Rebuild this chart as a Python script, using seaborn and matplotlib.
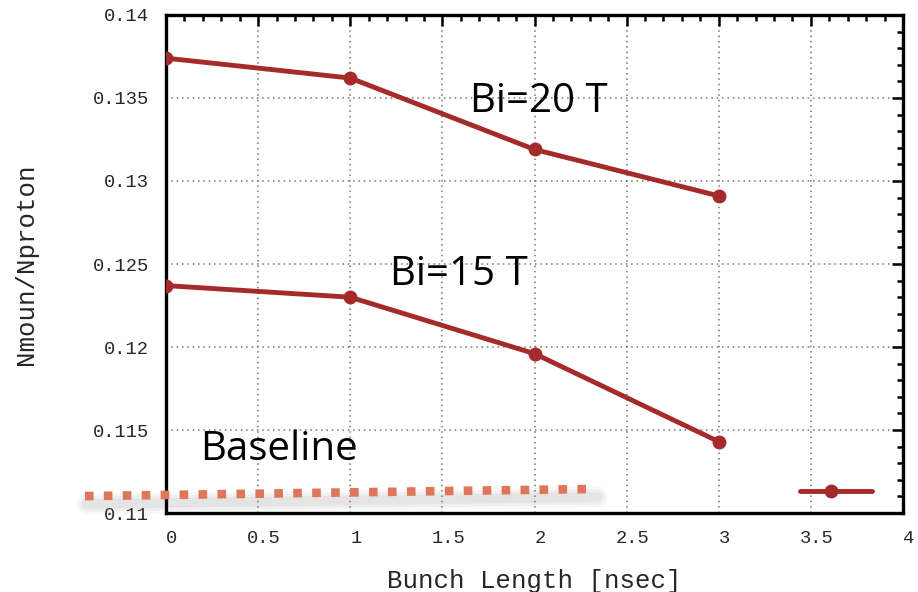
import numpy as np
import pandas as pd
import matplotlib
matplotlib.use("Agg")
import matplotlib.pyplot as plt
import matplotlib.transforms as mtransforms
from matplotlib.ticker import MultipleLocator
import seaborn as sns

# ---- data ----
bunch_length = [0, 1, 2, 3]
bi20 = [0.1374, 0.1362, 0.1319, 0.1291]
bi15 = [0.1237, 0.1230, 0.1196, 0.1143]

baseline_x = [-0.44, 2.33]
baseline_y = [0.11102, 0.11145]

key_x = [3.44, 3.83]
key_y = [0.11133, 0.11133]
key_marker_x = [3.61]
key_marker_y = [0.11133]

labels = ["Bi=20 T", "Bi=15 T", "Baseline"]
label_x = [1.65, 1.216, 0.185]
label_y = [0.13416, 0.12373, 0.11319]

xticks = [0, 0.5, 1, 1.5, 2, 2.5, 3, 3.5, 4]
xtick_labels = ["0", "0.5", "1", "1.5", "2", "2.5", "3", "3.5", "4"]
yticks = [0.11, 0.115, 0.12, 0.125, 0.13, 0.135, 0.14]
ytick_labels = ["0.11", "0.115", "0.12", "0.125", "0.13", "0.135", "0.14"]

df = pd.DataFrame({
    "x": bunch_length * 2,
    "y": bi20 + bi15,
    "series": ["Bi=20 T"] * 4 + ["Bi=15 T"] * 4,
})

sns.set_style("white")
plt.rcParams["font.family"] = ["Liberation Mono", "DejaVu Sans Mono"]

fig = plt.figure(figsize=(9.18, 5.92), dpi=100)
ax = fig.add_axes([0.1808, 0.1334, 0.8029, 0.8413])

line_color = "#A52A2A"
sns.lineplot(data=df, x="x", y="y", units="series", estimator=None,
             color=line_color, lw=3.5, marker="o", markersize=10,
             markeredgewidth=0, ax=ax, legend=False, zorder=3)

# baseline shadow
for lw, a in [(15, 0.05), (11, 0.07), (7, 0.09)]:
    off = mtransforms.offset_copy(ax.transData, fig=fig, x=2, y=-8, units="dots")
    ax.plot(baseline_x, baseline_y, color="0.5", lw=lw, alpha=a,
            solid_capstyle="round", transform=off, clip_on=False, zorder=2)

ax.plot(baseline_x, baseline_y, color="#DE765A", lw=6.2,
        linestyle=(0, (1.0, 1.2)), dash_capstyle="butt",
        clip_on=False, zorder=4)

# key
ax.plot(key_x, key_y, color=line_color, lw=3.5, clip_on=False, zorder=4)
ax.plot(key_marker_x, key_marker_y, color=line_color, marker="o",
        markersize=10, markeredgewidth=0, linestyle="none", zorder=5)

for t, x, y in zip(labels, label_x, label_y):
    ax.text(x, y, t, fontsize=29, family=["Open Sans", "DejaVu Sans"],
            color="black", va="baseline", ha="left", zorder=6)

ax.set_xlim(0, 4)
ax.set_ylim(0.11, 0.14)
ax.set_xticks(xticks)
ax.set_xticklabels(xtick_labels)
ax.set_yticks(yticks)
ax.set_yticklabels(ytick_labels)
ax.xaxis.set_minor_locator(MultipleLocator(0.1))
ax.yaxis.set_minor_locator(MultipleLocator(0.001))

ax.tick_params(which="both", direction="in", top=True, right=True,
               width=1.8, color="black", labelsize=13.5)
ax.tick_params(which="major", length=8, pad=12)
ax.tick_params(which="minor", length=4.5)

shift = mtransforms.ScaledTranslation(6 / 100, 0, fig.dpi_scale_trans)
for lab in ax.get_xticklabels():
    lab.set_transform(lab.get_transform() + shift)

ax.grid(True, which="major", color="0.45", linestyle=(0, (1, 2.5)), lw=1.1)
for s in ax.spines.values():
    s.set_linewidth(2.4)
    s.set_color("black")
    s.set_visible(True)

ax.set_xlabel("Bunch Length [nsec]", fontsize=18.5, labelpad=16)
ax.set_ylabel("Nmoun/Nproton", fontsize=18.5, labelpad=40)

fig.savefig("out.png", dpi=100)
